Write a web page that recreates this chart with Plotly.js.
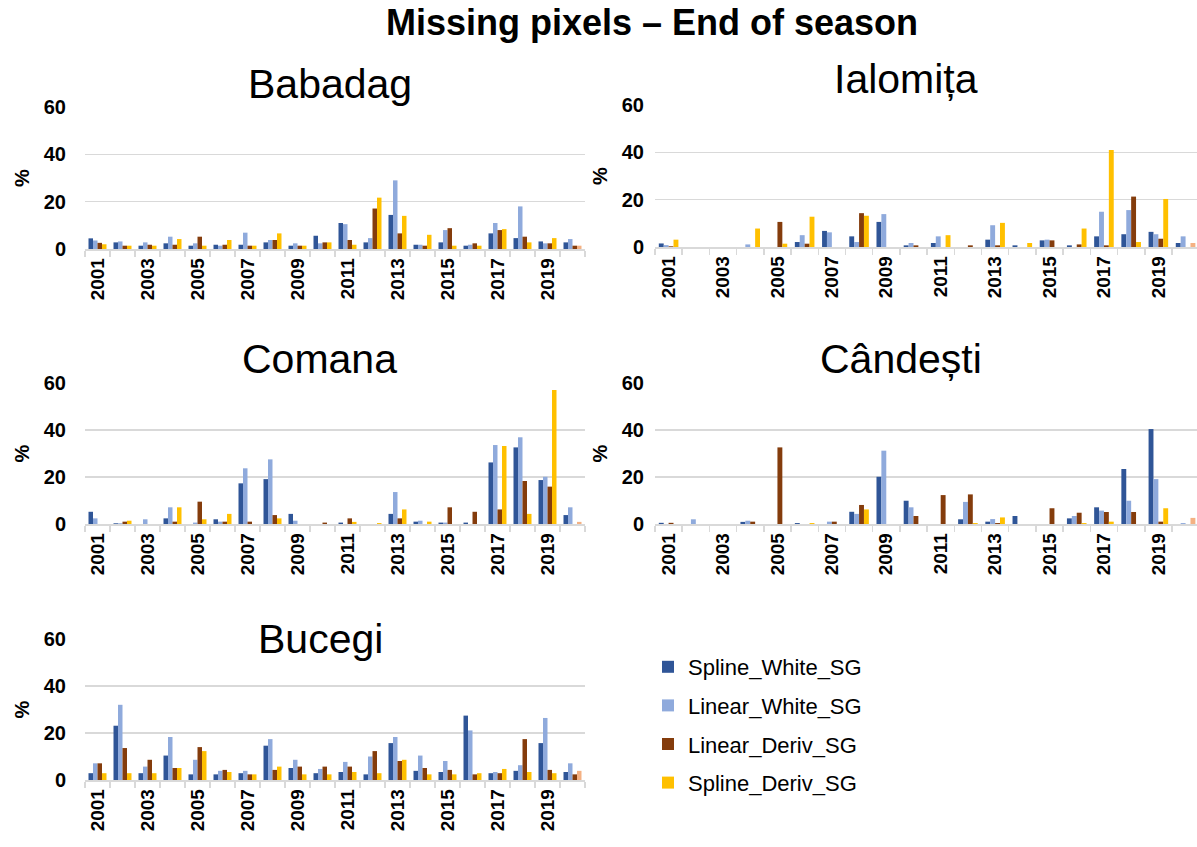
<!DOCTYPE html>
<html><head><meta charset="utf-8">
<script src="https://cdn.plot.ly/plotly-3.0.1.min.js"></script>
<style>body{margin:0;background:#fff}#chart{width:1197px;height:847px}</style>
</head><body><div id="chart"></div>
<script>
const years = ['2001','2002','2003','2004','2005','2006','2007','2008','2009','2010','2011','2012','2013','2014','2015','2016','2017','2018','2019','2020'];
const yearLabels = ['2001','','2003','','2005','','2007','','2009','','2011','','2013','','2015','','2017','','2019',''];
const seriesNames = ['Spline_White_SG','Linear_White_SG','Linear_Deriv_SG','Spline_Deriv_SG'];
const siteNames = ['Babadag','Ialomița','Comana','Cândești','Bucegi'];
const yTicks = [0,20,40,60];

// Babadag
const babadagSplineWhite = [4.5,2.8,1.4,2.4,1.4,1.8,1.8,2.8,1.4,5.6,11,2.8,14.4,1.8,2.8,1.4,6.6,4.6,3.2,2.8];
const babadagLinearWhite = [3.6,3.2,2.8,5.2,2.4,1.4,6.9,3.8,2.4,2.4,10.5,4.6,29,1.8,8,1.8,11,18,2.4,4.2];
const babadagLinearDeriv = [2.6,1.4,1.8,1.8,5.2,1.8,1.4,3.8,1.4,2.8,3.8,17.1,6.6,1.4,8.8,2.4,8,5.2,2.4,1.4];
const babadagSplineDeriv = [2,1.4,1.4,4.2,1.4,3.8,1.4,6.6,1.4,2.8,1.8,21.7,14,6,1.4,1.4,8.4,2.8,4.6,1.4];
// Ialomița
const ialomitaSplineWhite = [1.5,0,0,0,0,2.1,6.8,4.5,10.6,0.7,1.7,0,3.1,0.7,2.8,0.7,4.5,5.4,6.4,1.7];
const ialomitaLinearWhite = [0.8,0,0,1.1,0,5,6.2,2.1,13.9,1.7,4.5,0,9.2,0,3.1,0,14.9,15.6,5.4,4.5];
const ialomitaLinearDeriv = [0.3,0,0,0,10.6,1.4,0,14.3,0,0.7,0,0.7,0.7,0,2.8,1.1,0.7,21.3,3.5,0];
const ialomitaSplineDeriv = [3.1,0,0,7.8,1.4,12.8,0,13.2,0,0,5,0,10.2,1.7,0,7.8,41,2.1,20.3,1.7];
// Comana
const comanaSplineWhite = [5.2,0.3,0,2.4,0,2,17.3,19.1,4.3,0,0.6,0,4.3,1,0.6,0.6,26.2,32.6,18.7,3.8];
const comanaLinearWhite = [2.4,0.3,2,7.1,0.6,1,23.7,27.5,1.4,0,0,0,13.6,1.4,0.6,0,33.6,36.9,20.1,7.1];
const comanaLinearDeriv = [0,1,0,1,9.5,1,1,3.8,0,0.6,2.4,0,2.4,0,7.1,5.2,6.2,18.3,15.9,0];
const comanaSplineDeriv = [0,1.4,0,7.1,2,4.3,0,2.4,0,0,0.9,0.4,6.2,1,0,0,33.2,4.3,57,0.9];
// Cândești
const candestiSplineWhite = [0.5,0,0,0.9,0,0.4,0,5.2,20.1,9.9,0,2,1,3.4,0,2.4,7.1,23.4,40.4,0];
const candestiLinearWhite = [0,2,0,1.4,0,0,1,4.3,31.2,7.1,0,9.4,2.1,0,0,3.4,5.7,9.9,19.1,0.4];
const candestiLinearDeriv = [0.5,0,0,1,32.6,0,1,8.1,0,3.4,12.3,12.6,0.4,0,6.7,4.8,5.1,5.1,1,0];
const candestiSplineDeriv = [0,0,0,0,0,0.4,0,6.2,0,0,0,0.4,2.8,0,0,0.4,1,0,6.7,2.6];
// Bucegi
const bucegiSplineWhite = [2.9,23.1,2.9,10.4,2.4,2.4,2.9,14.6,5.1,2.9,3.4,2.4,15.7,3.9,3.4,27.4,2.9,3.9,15.7,3.4];
const bucegiLinearWhite = [7.1,32,5.7,18.3,8.6,3.9,3.9,17.4,8.6,4.7,7.7,10,18.3,10.4,8.1,21.1,3.4,6.3,26.4,7.1];
const bucegiLinearDeriv = [7.1,13.6,8.6,5.1,14,4.3,2.4,4.3,5.7,5.7,5.7,12.3,8.1,5.1,4.3,2.4,2.9,17.4,4.3,2.4];
const bucegiSplineDeriv = [2.9,2.9,2.9,5.1,12.3,3.4,2.4,5.7,2.4,2.4,3.4,2.9,8.6,2.4,2.4,2.9,4.7,3.4,2.9,3.9];

const siteData = [
  [babadagSplineWhite, babadagLinearWhite, babadagLinearDeriv, babadagSplineDeriv],
  [ialomitaSplineWhite, ialomitaLinearWhite, ialomitaLinearDeriv, ialomitaSplineDeriv],
  [comanaSplineWhite, comanaLinearWhite, comanaLinearDeriv, comanaSplineDeriv],
  [candestiSplineWhite, candestiLinearWhite, candestiLinearDeriv, candestiSplineDeriv],
  [bucegiSplineWhite, bucegiLinearWhite, bucegiLinearDeriv, bucegiSplineDeriv]
];

const W = 1197, H = 847;
const colors = ['#2F5597','#8FAADC','#843C0C','#FFC000'];
const lastPointColor = '#F4B183';
const FONT = 'Liberation Sans, Arial, sans-serif';
const grid = '#D9D9D9';

// pixel boxes: [left, right, top(60), bottom(0), rangeEnd, titleX, titleY, labelStandoff]
const boxes = [
  [85, 585, 107, 249, 19.5, 330, 84, 18],
  [655, 1197, 105, 247, 19.42, 906, 79, 10],
  [85, 585, 383, 524, 19.5, 319, 359, 18],
  [655, 1197, 383, 524, 19.42, 901, 359, 10],
  [85, 585, 639, 780, 19.5, 320, 639, 18]
];

const traces = [];
const layout = {
  width: W, height: H,
  margin: {l:0, r:0, t:0, b:0},
  paper_bgcolor: '#fff', plot_bgcolor: 'rgba(0,0,0,0)',
  font: {family: FONT, color: '#000'},
  barmode: 'group', bargap: 0.28, bargroupgap: 0,
  showlegend: true,
  legend: {x: 648/W, y: 1 - 646/H, xanchor: 'left', yanchor: 'top',
           font: {size: 22, family: FONT, color: '#000'}, tracegroupgap: 7,
           traceorder: 'grouped', bgcolor: 'rgba(0,0,0,0)'},
  title: {text: 'Missing pixels – End of season', x: 652/W, xanchor: 'center',
          y: 1 - 22/H, yanchor: 'middle', yref: 'container',
          font: {size: 36, family: FONT, weight: 700, color: '#000'}},
  annotations: []
};

siteData.forEach((series, s) => {
  const b = boxes[s];
  const xa = s === 0 ? 'x' : 'x' + (s+1);
  const ya = s === 0 ? 'y' : 'y' + (s+1);
  series.forEach((vals, k) => {
    const markerColor = k === 3 ? years.map((y, i) => i === years.length - 1 ? lastPointColor : colors[3]) : colors[k];
    traces.push({
      type: 'bar', x: years, y: vals, name: seriesNames[k],
      xaxis: xa, yaxis: ya,
      marker: {color: markerColor, line: {width: 0}},
      legendgroup: seriesNames[k], showlegend: s === 0,
      hoverinfo: 'x+y+name'
    });
  });
  const xKey = s === 0 ? 'xaxis' : 'xaxis' + (s+1);
  const yKey = s === 0 ? 'yaxis' : 'yaxis' + (s+1);
  layout[xKey] = {
    domain: [b[0]/W, b[1]/W], anchor: ya, type: 'category',
    range: [-0.5, b[4]],
    tickmode: 'array', tickvals: years, ticktext: yearLabels,
    tickson: 'boundaries', ticks: 'outside', ticklen: 6, tickwidth: 1.5, tickcolor: grid,
    showline: true, linecolor: grid, linewidth: 1.5,
    showgrid: false, zeroline: false, tickangle: -90,
    tickfont: {size: 19, family: FONT, weight: 700, color: '#000'},
    automargin: false, fixedrange: true
  };
  layout[yKey] = {
    domain: [1 - b[3]/H, 1 - b[2]/H], anchor: xa,
    range: [0, 60], tickmode: 'array', tickvals: yTicks,
    showgrid: true, gridcolor: grid, gridwidth: 1.5, zeroline: false, showline: false,
    ticks: '', ticklabelstandoff: b[7],
    tickfont: {size: 20, family: FONT, weight: 700, color: '#000'},
    title: {text: '%', standoff: 8, font: {size: 20, family: FONT, weight: 700, color: '#000'}},
    automargin: false, fixedrange: true
  };
  layout.annotations.push({
    text: siteNames[s], xref: 'paper', yref: 'paper',
    x: b[5]/W, y: 1 - b[6]/H, xanchor: 'center', yanchor: 'middle',
    showarrow: false, font: {size: 41, family: FONT, color: '#000'}
  });
});

Plotly.newPlot('chart', traces, layout, {displayModeBar: false, staticPlot: true});
</script>
</body></html>
